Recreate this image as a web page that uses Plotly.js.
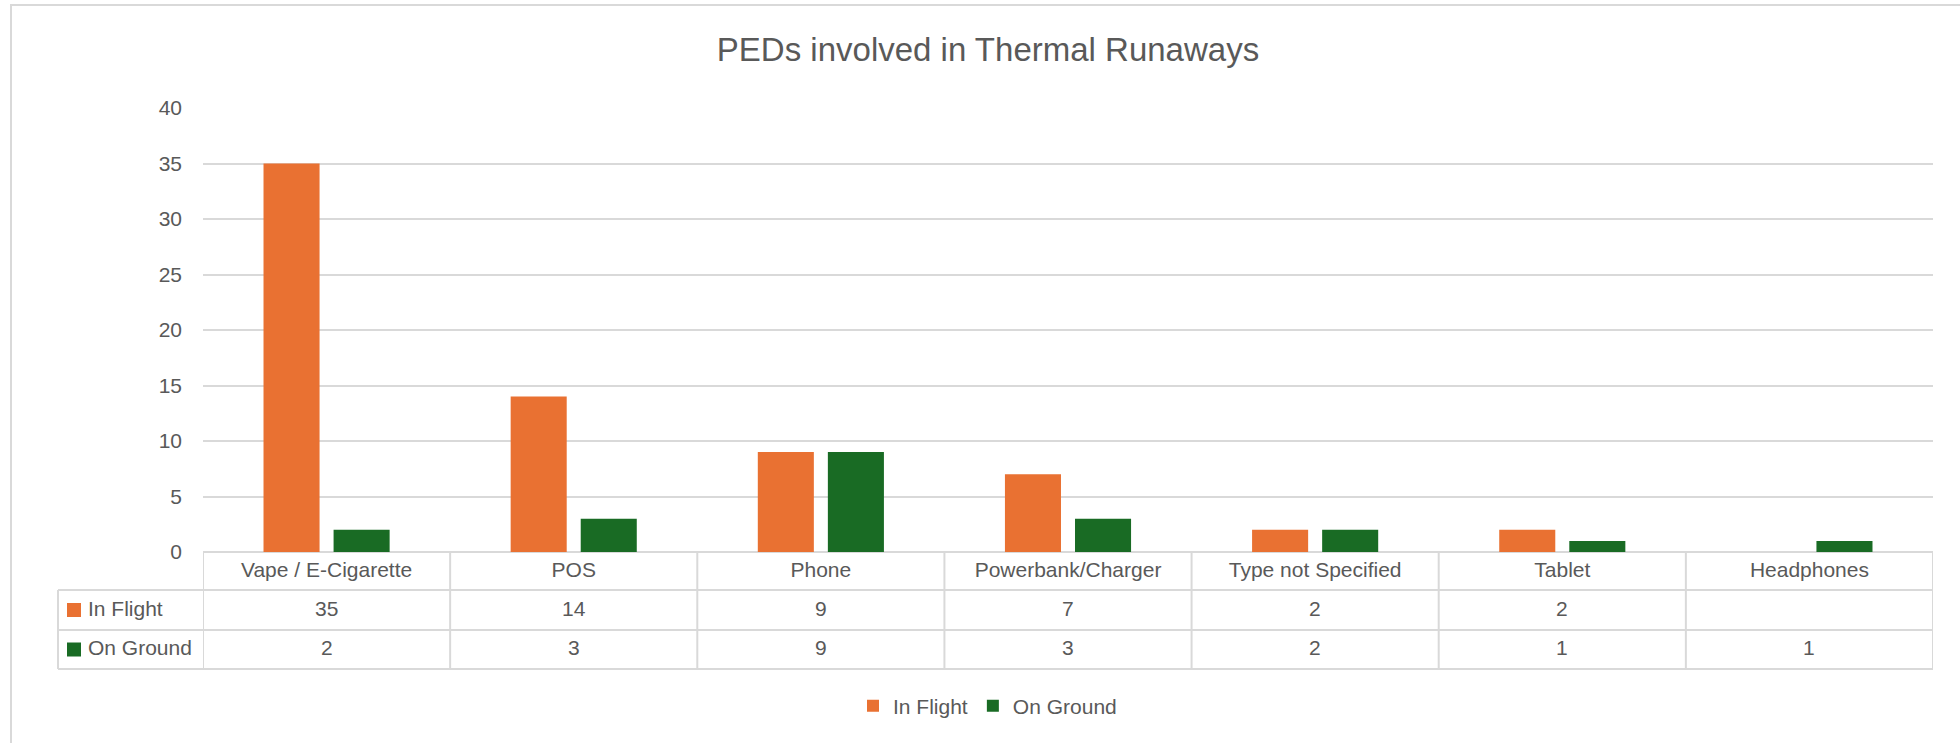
<!DOCTYPE html>
<html>
<head>
<meta charset="utf-8">
<script src="https://cdn.plot.ly/plotly-3.0.1.min.js"></script>
<style>
  html, body { margin: 0; padding: 0; background: #fff; }
  #chart { width: 1960px; height: 743px; }
</style>
</head>
<body>
<div id="chart"></div>
<script>
var categories = ['Vape / E-Cigarette', 'POS', 'Phone', 'Powerbank/Charger', 'Type not Specified', 'Tablet', 'Headphones'];
var inFlight = [35, 14, 9, 7, 2, 2, null];
var onGround = [2, 3, 9, 3, 2, 1, 1];
var seriesNames = ['In Flight', 'On Ground'];
var seriesColors = ['#E97132', '#196B24'];
var yTicks = [0, 5, 10, 15, 20, 25, 30, 35, 40];

var W = 1960, H = 743;
var M = {l: 203, r: 27, t: 108, b: 191};
var plotW = W - M.l - M.r, plotH = H - M.t - M.b;
var grey = '#595959', lineCol = '#D9D9D9';
var font = 'Liberation Sans, Arial, sans-serif';

// pixel -> paper (paper is the plot area)
function px(x) { return (x - M.l) / plotW; }
function py(y) { return (H - M.b - y) / plotH; }

// data table geometry (px)
var tableLeft = 58;
var rowLines = [590, 630, 669];
var rowMid = [610, 649.5];

var trace1 = {
  x: categories,
  y: inFlight,
  name: seriesNames[0],
  type: 'bar',
  marker: {color: seriesColors[0]}
};

var trace2 = {
  x: categories,
  y: onGround,
  name: seriesNames[1],
  type: 'bar',
  marker: {color: seriesColors[1]}
};

var shapes = [];
var annotations = [];

// chart area border
shapes.push({type: 'rect', xref: 'paper', yref: 'paper',
  x0: px(11), x1: px(1975), y0: py(5), y1: py(760),
  line: {color: lineCol, width: 2}, fillcolor: 'rgba(0,0,0,0)', layer: 'below'});

// table horizontal lines
rowLines.forEach(function (y) {
  shapes.push({type: 'line', xref: 'paper', yref: 'paper',
    x0: px(tableLeft), x1: 1, y0: py(y), y1: py(y),
    line: {color: lineCol, width: 2}});
});
// left edge of series column
shapes.push({type: 'line', xref: 'paper', yref: 'paper',
  x0: px(tableLeft), x1: px(tableLeft), y0: py(rowLines[0]), y1: py(rowLines[2]),
  line: {color: lineCol, width: 2}});
// category column boundaries
for (var i = 0; i <= categories.length; i++) {
  shapes.push({type: 'line', xref: 'x', yref: 'paper',
    x0: i - 0.5, x1: i - 0.5, y0: 0, y1: py(rowLines[2]),
    line: {color: lineCol, width: 2}});
}

// series keys + values in table
[inFlight, onGround].forEach(function (vals, r) {
  shapes.push({type: 'rect', xref: 'paper', yref: 'paper',
    x0: px(67), x1: px(81), y0: py(rowMid[r] - 7), y1: py(rowMid[r] + 7),
    line: {width: 0}, fillcolor: seriesColors[r]});
  annotations.push({xref: 'paper', yref: 'paper', x: px(86), y: py(rowMid[r] - 2),
    xanchor: 'left', yanchor: 'middle', showarrow: false,
    text: seriesNames[r], font: {size: 21, color: grey, family: font}});
  vals.forEach(function (v, j) {
    if (v === null) return;
    annotations.push({xref: 'x', yref: 'paper', x: categories[j], y: py(rowMid[r] - 2),
      xanchor: 'center', yanchor: 'middle', showarrow: false,
      text: String(v), font: {size: 21, color: grey, family: font}});
  });
});

var data = [trace1, trace2];

var layout = {
  width: W,
  height: H,
  margin: {l: M.l, r: M.r, t: M.t, b: M.b, pad: 0},
  paper_bgcolor: '#fff',
  plot_bgcolor: '#fff',
  font: {family: font, color: grey, size: 21},
  title: {
    text: 'PEDs involved in Thermal Runaways',
    font: {size: 33, color: grey, family: font},
    x: 988 / W, xanchor: 'center', xref: 'container',
    y: 1 - 49 / H, yanchor: 'middle', yref: 'container'
  },
  xaxis: {
    type: 'category',
    range: [-0.5, categories.length - 0.5],
    showgrid: false,
    zeroline: false,
    showline: false,
    ticks: '',
    ticklabelstandoff: 3,
    tickfont: {size: 21, color: grey, family: font},
    fixedrange: true
  },
  yaxis: {
    range: [0, 40],
    tickvals: yTicks,
    showgrid: true,
    gridcolor: lineCol,
    gridwidth: 2,
    zeroline: true,
    zerolinecolor: lineCol,
    zerolinewidth: 2,
    showline: false,
    ticks: '',
    ticklabelstandoff: 20,
    tickfont: {size: 21, color: grey, family: font},
    fixedrange: true
  },
  legend: {
    orientation: 'h',
    x: px(853),
    xanchor: 'left',
    y: py(706),
    yanchor: 'middle',
    bgcolor: 'rgba(255,255,255,0)',
    font: {size: 21, color: grey, family: font},
    traceorder: 'normal'
  },
  barmode: 'group',
  bargap: 0.433,
  bargroupgap: 0.2,
  hovermode: false,
  shapes: shapes,
  annotations: annotations
};

Plotly.newPlot('chart', data, layout, {displayModeBar: false, staticPlot: true});
</script>
</body>
</html>
